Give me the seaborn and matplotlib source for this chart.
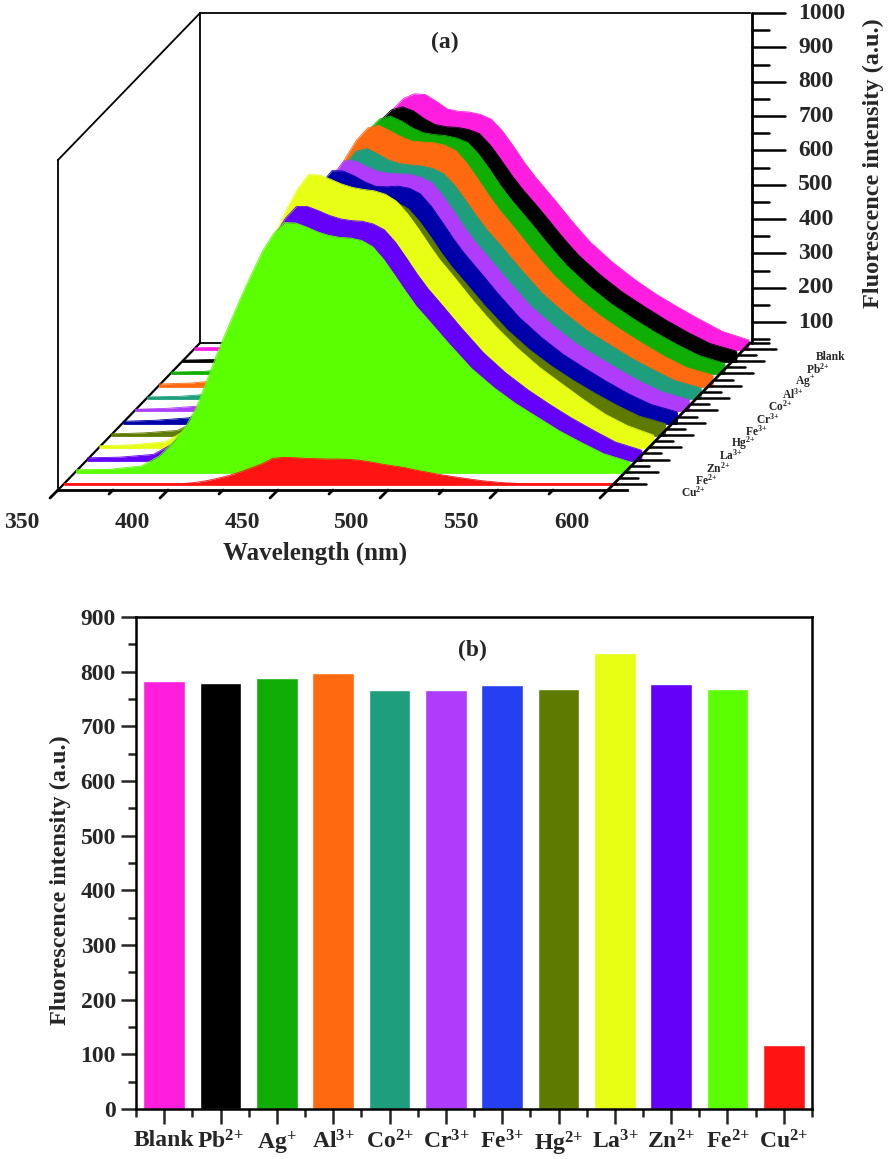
import numpy as np
import pandas as pd
import seaborn as sns
import matplotlib.pyplot as plt

W, H = 890, 1159

# ==============
# DATA
# ==============

# Bars, panel (b)
ion_labels = ["Blank", "Pb$^{2{+}}$", "Ag$^{{+}}$", "Al$^{3{+}}$", "Co$^{2{+}}$", "Cr$^{3{+}}$",
              "Fe$^{3{+}}$", "Hg$^{2{+}}$", "La$^{3{+}}$", "Zn$^{2{+}}$", "Fe$^{2{+}}$", "Cu$^{2{+}}$"]
bar_values = [783, 780, 789, 797, 766, 767, 776, 768, 835, 778, 768, 117]
bar_colors = ["#FF1EDC", "#000000", "#10AE04", "#FF6A10", "#1E9E7C", "#AE3CFA",
              "#2440F0", "#5E7A00", "#E6FF14", "#6400FA", "#5AFF00", "#FF1414"]

# Spectra, panel (a)
wavelength = [350, 365, 380, 388, 394, 400, 405, 410, 415, 420, 425, 430, 435, 440, 445, 450, 455, 460, 465, 470,
              475, 480, 485, 490, 495, 500, 505, 510, 515, 520, 525, 530, 540, 550, 560, 570, 580, 590, 602]
blank = [42, 44, 52, 77, 114, 166, 224, 306, 390, 470, 548, 620, 684, 735, 768, 782, 780, 760, 738, 731,
         729, 722, 708, 674, 630, 582, 540, 502, 464, 424, 386, 350, 292, 242, 198, 160, 124, 90, 65]
pb = [42, 44, 51, 76, 112, 164, 224, 306, 392, 472, 550, 622, 688, 740, 771, 780, 768, 745, 728, 722,
      720, 714, 702, 668, 624, 578, 537, 500, 462, 422, 384, 348, 290, 240, 198, 158, 122, 90, 68]
ag = [43, 45, 53, 80, 118, 170, 230, 314, 400, 480, 558, 630, 696, 748, 780, 789, 774, 754, 740, 735,
      732, 725, 712, 678, 634, 586, 544, 506, 468, 428, 390, 354, 294, 243, 200, 160, 124, 92, 68]
al = [44, 47, 56, 84, 124, 178, 238, 322, 408, 488, 566, 638, 704, 755, 790, 798, 782, 765, 752, 749,
      747, 740, 724, 688, 642, 594, 550, 512, 472, 432, 394, 358, 298, 246, 202, 162, 124, 92, 70]
co = [42, 44, 51, 74, 108, 156, 214, 292, 376, 454, 530, 602, 668, 718, 758, 766, 750, 732, 722, 718,
      715, 708, 692, 658, 614, 568, 526, 490, 452, 414, 378, 342, 286, 236, 196, 156, 122, 90, 68]
cr = [42, 45, 52, 76, 112, 160, 218, 298, 382, 460, 536, 606, 672, 725, 766, 766, 750, 736, 730, 728,
      727, 718, 702, 664, 618, 570, 527, 490, 452, 414, 378, 342, 286, 236, 196, 158, 122, 92, 70]
fe3 = [43, 46, 53, 78, 115, 166, 226, 308, 393, 472, 548, 618, 684, 735, 773, 772, 758, 740, 727, 726,
       728, 722, 706, 670, 624, 576, 533, 495, 457, 418, 382, 346, 288, 238, 197, 158, 122, 92, 70]
hg = [42, 45, 52, 76, 112, 162, 220, 300, 385, 462, 536, 606, 672, 722, 760, 767, 758, 746, 734, 727,
      724, 716, 698, 662, 618, 570, 527, 490, 452, 414, 380, 345, 288, 240, 198, 160, 125, 94, 72]
la = [43, 46, 55, 84, 125, 180, 245, 330, 420, 505, 585, 660, 730, 790, 833, 832, 820, 806, 796, 790,
      786, 776, 756, 720, 676, 628, 583, 545, 505, 465, 428, 392, 328, 272, 225, 178, 135, 102, 74]
zn = [44, 46, 54, 82, 120, 172, 232, 315, 400, 478, 552, 622, 690, 742, 776, 776, 764, 750, 740, 735,
      733, 725, 708, 672, 626, 578, 535, 498, 460, 422, 386, 350, 292, 243, 200, 160, 124, 90, 66]
fe2 = [45, 46, 56, 85, 122, 170, 228, 310, 395, 470, 545, 615, 682, 733, 765, 764, 752, 738, 728, 722,
       720, 713, 695, 658, 612, 565, 520, 484, 447, 410, 375, 340, 285, 238, 198, 158, 124, 92, 68]
cu = [40, 40, 40, 40, 40, 40, 41, 44, 49, 56, 64, 74, 86, 98, 114, 117, 116, 114, 113, 112,
      112, 111, 108, 103, 97, 92, 87, 80, 74, 68, 63, 58, 49, 43, 40, 40, 40, 40, 40]

# back to front
spectra = [blank, pb, ag, al, co, cr, fe3, hg, la, zn, fe2, cu]
curve_colors = ["#FF1EE0", "#000000", "#10AE04", "#FF6A10", "#1E9E7C", "#AE3CFA",
                "#0000AA", "#5E7A00", "#E6FF14", "#6400FA", "#5AFF00", "#FF1414"]

x_ticks_a = [350, 400, 450, 500, 550, 600]
y_ticks_a = [100, 200, 300, 400, 500, 600, 700, 800, 900, 1000]
y_ticks_b = [0, 100, 200, 300, 400, 500, 600, 700, 800, 900]

# ==============
# STYLE
# ==============
sns.set_style("white")
plt.rcParams["font.family"] = ["Liberation Serif", "DejaVu Serif"]
plt.rcParams["font.weight"] = "bold"
plt.rcParams["mathtext.default"] = "regular"

fig = plt.figure(figsize=(W / 100, H / 100), dpi=100)

# ==============
# PANEL (a)
# ==============
PX_NM = 2.2       # px per nm on front plane
PX_INT = 0.3433   # px per intensity unit
BASE = 39         # intensity at the floor
DEPTH_NM = 142 / PX_NM     # shift of the back plane
DEPTH_INT = 147 / PX_INT

ax = fig.add_axes([0, 1 - 560 / H, 1, 560 / H])
ax.set_xlim(350 - 58 / PX_NM, 350 + (W - 58) / PX_NM)
ax.set_ylim(BASE - 70 / PX_INT, BASE + 490 / PX_INT)
ax.axis("off")


def proj(wl, val, z):
    return np.asarray(wl, float) + z * DEPTH_NM, np.asarray(val, float) + z * DEPTH_INT


def seg(p0, p1, lw=1.6, zorder=1):
    ax.plot([p0[0], p1[0]], [p0[1], p1[1]], color="black", lw=lw, zorder=zorder,
            solid_capstyle="projecting")


# walls
left, right = 350, 600
top = 1000
wall_h = BASE + 330 / PX_INT
seg(proj(left, BASE, 0), proj(left, wall_h, 0), 1.3)
seg(proj(left, wall_h, 0), proj(left, top, 1), 1.3)
seg(proj(left, top, 1), proj(left, BASE, 1), 1.3)
seg(proj(left, top, 1), proj(right, top, 1), 1.3)
seg(proj(left, BASE, 1), proj(right, BASE, 1), 1.3)
seg(proj(left, BASE, 0), proj(left, BASE, 1), 1.6)

n = len(spectra)
depths = [0.96 - i * 0.92 / (n - 1) for i in range(n)]

for vals, col, z in zip(spectra, curve_colors, depths):
    xp, yp = proj(wavelength, vals, z)
    _, yb = proj(wavelength, [BASE] * len(vals), z)
    ax.fill_between(xp, yb, yp, color=col, lw=0, zorder=3)
    ax.plot(xp, yb, color=col, lw=2, zorder=3, solid_capstyle="butt")
    sns.lineplot(x=xp, y=yp, sort=False, estimator=None, color=col, lw=0.6, ax=ax, zorder=3)

# front axis
seg(proj(left, BASE, 0), proj(right + 8.5, BASE, 0), 2, 4)
seg(proj(right, BASE, 0), proj(right, BASE, 1), 2, 4)
for wl in np.arange(350, 601, 25):
    major = wl in x_ticks_a
    t = 8 if major else 4
    ax.plot([wl, wl - t / PX_NM], [BASE, BASE - t / PX_INT], color="black", lw=2, zorder=4)
    if major:
        ax.annotate(str(wl), (wl, BASE), xytext=(-36, -32), textcoords="offset pixels",
                    ha="center", va="center", fontsize=17, fontweight="bold")
ax.annotate("Wavelength (nm)", (350, BASE), xytext=(315 - 58, -63), textcoords="offset pixels",
            ha="center", va="center", fontsize=18, fontweight="bold")
ax.annotate("(a)", (350, BASE), xytext=(445 - 58, 490 - 42), textcoords="offset pixels",
            ha="center", va="center", fontsize=17, fontweight="bold")

# depth axis ticks + labels
z_step = 0.92 / (n - 1)
for i, (lab, z) in enumerate(zip(ion_labels, depths)):
    xp, yp = proj(right, BASE, z)
    ax.plot([xp, xp + 32 / PX_NM], [yp, yp], color="black", lw=1.8, zorder=4)
    if i > 0:
        xs, ys = proj(right, BASE, z + z_step / 2)
        ax.plot([xs, xs + 18 / PX_NM], [ys, ys], color="black", lw=1.8, zorder=4)
    ax.annotate(lab, (xp, yp), xytext=(86 - i * 0.55, -8.5), textcoords="offset pixels",
                ha="center", va="center", fontsize=8.3, fontweight="bold")
xs, ys = proj(right, BASE, 1)
ax.plot([xs, xs + 19 / PX_NM], [ys, ys], color="black", lw=1.8, zorder=4)

# intensity axis, on back plane
xa, _ = proj(right + 1, BASE, 1)
_, y0 = proj(right, BASE, 1)
_, y1 = proj(right, top, 1)
ax.plot([xa, xa], [y0, y1], color="black", lw=2, zorder=4)
for v in np.arange(50, 1001, 50):
    major = v in y_ticks_a
    _, yv = proj(right, v, 1)
    ax.plot([xa, xa + (33 if major else 17) / PX_NM], [yv, yv], color="black", lw=1.8, zorder=4)
    if major:
        ax.annotate(str(v), (xa, yv), xytext=(46, 0), textcoords="offset pixels",
                    ha="left", va="center", fontsize=17, fontweight="bold")
fig.text(873 / W, 1 - 163 / H, "Fluorescence intensity (a.u.)", rotation=90,
         ha="center", va="center", fontsize=17.5, fontweight="bold")

# ==============
# PANEL (b)
# ==============
bx = fig.add_axes([136 / W, 1 - 1109 / H, (812 - 136) / W, (1109 - 617) / H])
df = pd.DataFrame({"ion": ion_labels, "value": bar_values})
sns.barplot(data=df, x="ion", y="value", hue="ion", palette=bar_colors, legend=False,
            width=0.735, saturation=1, ax=bx)
bx.set_xlim(-0.5, 11.5)
bx.set_ylim(0, 900)
bx.set_xlabel("")
bx.set_ylabel("")
bx.set_yticks(y_ticks_b)
bx.set_yticks(np.arange(50, 900, 100), minor=True)
bx.set_xticks(np.arange(-0.5, 12), minor=True)
bx.tick_params(axis="both", which="major", length=11, width=1.8, direction="out",
               labelsize=17, bottom=True, left=True)
bx.tick_params(axis="both", which="minor", length=6, width=1.8, direction="out",
               bottom=True, left=True)
bx.tick_params(axis="x", which="major", pad=4)
for lab in bx.get_xticklabels() + bx.get_yticklabels():
    lab.set_fontweight("bold")
for s in bx.spines.values():
    s.set_visible(True)
    s.set_color("black")
    s.set_linewidth(1.8)
fig.text(472 / W, 1 - 650 / H, "(b)", ha="center", va="center", fontsize=17, fontweight="bold")
fig.text(60 / W, 1 - 880 / H, "Fluorescence intensity (a.u.)", rotation=90,
         ha="center", va="center", fontsize=17.5, fontweight="bold")

fig.savefig("out.png", dpi=100)
